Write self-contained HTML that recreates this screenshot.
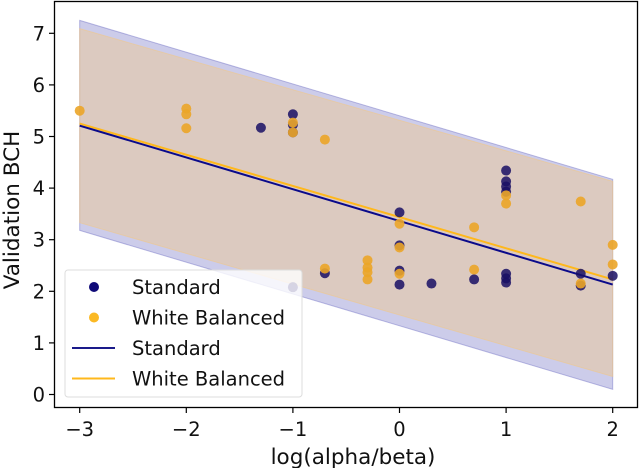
<!DOCTYPE html>
<html><head><meta charset="utf-8"><style>
html,body{margin:0;padding:0;background:#fff;}
svg{display:block;font-family:"DejaVu Sans","Liberation Sans",sans-serif;}
</style></head><body>
<svg id="chart" width="640" height="468" viewBox="0 0 640 468" xmlns="http://www.w3.org/2000/svg">
<g id="bands"></g>
<g id="lines"></g>
<g id="points"></g>
<g id="axes"></g>
<g id="legend"></g>
</svg>
<script>
const xTicks = [-3,-2,-1,0,1,2];
const yTicks = [0,1,2,3,4,5,6,7];
const stdX = [-1.3,-1,-1,-1,-1,-0.7,0,0,0,0,0.3,0.7,1,1,1,1,1,1,1,1.7,1.7,2];
const stdY = [5.17,5.43,5.23,5.08,2.08,2.35,3.53,2.89,2.4,2.13,2.15,2.23,4.34,4.13,4.03,3.93,2.34,2.25,2.17,2.34,2.11,2.3];
const wbX = [-3,-2,-2,-2,-1,-1,-0.7,-0.7,-0.3,-0.3,-0.3,-0.3,0,0,0,0.7,0.7,1,1,1.7,1.7,2,2];
const wbY = [5.5,5.54,5.43,5.16,5.27,5.08,4.94,2.44,2.6,2.46,2.37,2.23,3.31,2.85,2.34,3.24,2.42,3.86,3.7,3.74,2.15,2.9,2.52];
const lineX = [-3,2];
const stdLine = [5.21,2.13];
const wbLine = [5.25,2.23];
const stdBandHi = [7.25,4.17];
const stdBandLo = [3.18,0.1];
const wbBandHi = [7.09,4.13];
const wbBandLo = [3.33,0.35];

const NS='http://www.w3.org/2000/svg';
const X = v => 399.5 + (v)*106.6;
const Y = v => 394.5 - v*51.6;
function mk(tag, attrs, parent){const e=document.createElementNS(NS,tag);for(const k in attrs)e.setAttribute(k,attrs[k]);parent.appendChild(e);return e;}
const bands=document.getElementById('bands'),lines=document.getElementById('lines'),pts=document.getElementById('points'),axes=document.getElementById('axes'),legend=document.getElementById('legend');

function band(hi,lo,fill,stroke,name){
  const d=`M${X(lineX[0])},${Y(hi[0])} L${X(lineX[1])},${Y(hi[1])} L${X(lineX[1])},${Y(lo[1])} L${X(lineX[0])},${Y(lo[0])} Z`;
  const p=mk('path',{d:d,fill:fill,stroke:stroke,'stroke-width':1},bands);
  
  
}
band(stdBandHi,stdBandLo,'rgba(120,120,200,0.38)','rgba(120,120,200,0.5)','standard-band');
band(wbBandHi,wbBandLo,'rgba(235,200,150,0.5)','rgba(240,200,140,0.6)','white-balanced-band');

function ln(ys,color,name){
  const l=mk('line',{x1:X(lineX[0]),y1:Y(ys[0]),x2:X(lineX[1]),y2:Y(ys[1]),stroke:color,'stroke-width':2},lines);
  
  
}
ln(wbLine,'#ffb81c','white-balanced-line');
ln(stdLine,'#0a0a8a','standard-line');

stdX.forEach((x,i)=>{
  const c=mk('circle',{cx:X(x),cy:Y(stdY[i]),r:5,fill:'rgba(25,15,100,0.85)'},pts);
  
  
});
wbX.forEach((x,i)=>{
  const c=mk('circle',{cx:X(x),cy:Y(wbY[i]),r:5,fill:'rgba(235,165,40,0.9)'},pts);
  
  
});

const fr=mk('rect',{x:54.5,y:1.5,width:583,height:406,fill:'none',stroke:'#000','stroke-width':1.3},axes);


xTicks.forEach(t=>{
  mk('line',{x1:X(t),y1:408,x2:X(t),y2:413,stroke:'#000','stroke-width':1.2},axes);
  const tx=mk('text',{x:X(t),y:436,'font-size':19.5,'text-anchor':'middle',fill:'#111'},axes);
  tx.textContent=(t<0?'\u2212'+(-t):String(t));
  
  
});
yTicks.forEach(t=>{
  mk('line',{x1:49,y1:Y(t),x2:54,y2:Y(t),stroke:'#000','stroke-width':1.2},axes);
  const tx=mk('text',{x:45,y:Y(t)+7,'font-size':19.5,'text-anchor':'end',fill:'#111'},axes);
  tx.textContent=String(t);
  
  
});
const xt=mk('text',{x:353,y:464,'font-size':21.5,'text-anchor':'middle',fill:'#111'},axes);
xt.textContent='log(alpha/beta)';


const yt=mk('text',{x:0,y:0,'font-size':21.5,'text-anchor':'middle',fill:'#111',transform:'translate(19,210) rotate(-90)'},axes);
yt.textContent='Validation BCH';



const lb=mk('rect',{x:65,y:270,width:237,height:127,rx:3,fill:'rgba(255,255,255,0.8)',stroke:'#ddd','stroke-width':1},legend);


const entries=[['dot','rgba(15,10,120,1)','Standard'],['dot','#fbb924','White Balanced'],['line','#1a1a8a','Standard'],['line','#ffb81c','White Balanced']];
entries.forEach((e,i)=>{
  const cy=287+i*30.5;
  if(e[0]==='dot') mk('circle',{cx:94,cy:cy,r:5,fill:e[1]},legend);
  else mk('line',{x1:72,y1:cy,x2:115,y2:cy,stroke:e[1],'stroke-width':2},legend);
  const t=mk('text',{x:132,y:cy+7,'font-size':19.5,fill:'#111'},legend);
  t.textContent=e[2];
  
  
});
</script>
</body></html>
